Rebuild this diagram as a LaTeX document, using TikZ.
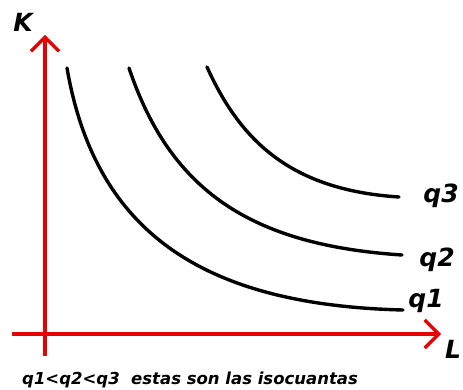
\documentclass[tikz,border=0pt]{standalone}
\usepackage{fontspec}
\setmainfont{DejaVu Sans}
\usetikzlibrary{arrows.meta}

\tikzset{
  axis/.style={line width=3.2pt, red!90!black, -{Straight Barb[length=14pt,width=28pt,line width=3.2pt]}},
  isoq/.style={line width=3.4pt, black, line cap=round},
  lbl/.style={font=\bfseries\itshape\fontsize{25}{25}\selectfont, inner sep=0pt}
}

\begin{document}
\begin{tikzpicture}[x=1pt,y=-1pt]
            \useasboundingbox (0,0) rectangle (463,390);
            % Axes
            \coordinate (Lstart) at (12,334);
            \coordinate (Lend) at (441,334);
            \coordinate (Kstart) at (45,356);
            \coordinate (Kend) at (45,35);
            \draw[axis] (Lstart) -- (Lend);
            \draw[axis] (Kstart) -- (Kend);
            \node[lbl] (Klabel) at (23,22) {K};
            \node[lbl] (Llabel) at (453,349) {L};
            % Isoquants
            \draw[isoq] (67,68) .. controls (95,230) and (200,305) .. (403,310);
            \draw[isoq] (129,68) .. controls (170,190) and (250,245) .. (402,255);
            \draw[isoq] (207,67) .. controls (240,140) and (290,190) .. (399,197);
            \node[lbl] (q3) at (441,196) {q3};
            \node[lbl] (q2) at (437,260) {q2};
            \node[lbl] (q1) at (426,301) {q1};
            % Caption
            \node[font=\bfseries\itshape\fontsize{16.5}{16.5}\selectfont, inner sep=0pt, anchor=west]
                (note) at (22,380) {q1<q2<q3\ \ estas son las isocuantas};
        \end{tikzpicture}
\end{document}
